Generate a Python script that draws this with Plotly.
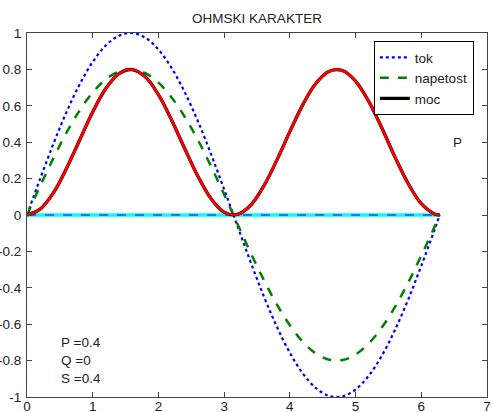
import plotly.graph_objects as go

t = [0, 0.2, 0.4, 0.6, 0.8, 1.0, 1.2, 1.4, 1.6, 1.8, 2.0, 2.2, 2.4, 2.6, 2.8, 3.0,
     3.2, 3.4, 3.6, 3.8, 4.0, 4.2, 4.4, 4.6, 4.8, 5.0, 5.2, 5.4, 5.6, 5.8, 6.0, 6.2, 6.28]
tok = [0, 0.199, 0.389, 0.565, 0.717, 0.841, 0.932, 0.985, 1.0, 0.974, 0.909, 0.808,
       0.675, 0.516, 0.335, 0.141, -0.058, -0.256, -0.443, -0.612, -0.757, -0.872,
       -0.952, -0.994, -0.996, -0.959, -0.883, -0.773, -0.631, -0.465, -0.279, -0.083, 0]
napetost = [0, 0.159, 0.311, 0.452, 0.574, 0.673, 0.746, 0.788, 0.800, 0.779, 0.727,
            0.646, 0.540, 0.413, 0.268, 0.113, -0.047, -0.205, -0.354, -0.490, -0.606,
            -0.698, -0.762, -0.795, -0.797, -0.767, -0.706, -0.618, -0.505, -0.372,
            -0.223, -0.066, 0]
moc = [0, 0.032, 0.121, 0.255, 0.411, 0.566, 0.695, 0.777, 0.799, 0.759, 0.661, 0.522,
       0.365, 0.213, 0.090, 0.016, 0.003, 0.052, 0.157, 0.300, 0.458, 0.608, 0.725,
       0.790, 0.794, 0.736, 0.624, 0.478, 0.318, 0.173, 0.062, 0.006, 0]
q_line = [0] * len(t)

x_ticks = [0, 1, 2, 3, 4, 5, 6, 7]
y_ticks = [1, 0.8, 0.6, 0.4, 0.2, 0, -0.2, -0.4, -0.6, -0.8, -1]
y_labels = ["1", "0.8", "0.6", "0.4", "0.2", "0", "-0.2", "-0.4", "-0.6", "-0.8", "-1"]

P, Q, S = 0.4, 0, 0.4

fig = go.Figure()
fig.add_trace(go.Scatter(x=t, y=q_line, mode="lines", line=dict(color="#00FFFF", width=3.5),
                         showlegend=False, hoverinfo="skip"))
fig.add_trace(go.Scatter(x=t, y=q_line, mode="lines", line=dict(color="#0000FF", width=1, dash="dash"),
                         showlegend=False, hoverinfo="skip"))
fig.add_trace(go.Scatter(x=t, y=tok, mode="lines", name="tok",
                         line=dict(color="#0000FF", width=2.2, dash="dot", shape="spline")))
fig.add_trace(go.Scatter(x=t, y=napetost, mode="lines", name="napetost",
                         line=dict(color="#008000", width=2.5, dash="dash", shape="spline")))
fig.add_trace(go.Scatter(x=t, y=moc, mode="lines", name="moc",
                         line=dict(color="#000000", width=3.3, shape="spline")))
fig.add_trace(go.Scatter(x=t, y=moc, mode="lines", showlegend=False,
                         line=dict(color="#FF0000", width=2.6, shape="spline")))

font = dict(family="Liberation Sans, Arial, sans-serif", size=13.5, color="#222222")

fig.add_annotation(x=0.48, y=-0.7, text=f"P ={P}", showarrow=False, xanchor="left", font=font)
fig.add_annotation(x=0.48, y=-0.8, text=f"Q ={Q}", showarrow=False, xanchor="left", font=font)
fig.add_annotation(x=0.48, y=-0.9, text=f"S ={S}", showarrow=False, xanchor="left", font=font)
fig.add_annotation(x=6.45, y=0.4, text="P", showarrow=False, xanchor="left", font=font)

axis_common = dict(showgrid=False, zeroline=False, showline=True, linecolor="#444444", linewidth=1,
                   mirror="ticks", ticks="inside", ticklen=5, tickcolor="#444444", tickfont=font,
                   automargin=False)

fig.update_layout(
    width=493, height=412,
    margin=dict(l=27, r=6, t=33, b=15),
    paper_bgcolor="white", plot_bgcolor="white",
    title=dict(text="OHMSKI KARAKTER", x=(27 + 487) / 2 / 493, xanchor="center",
               y=1 - 18 / 412, yanchor="middle", font=font),
    xaxis=dict(range=[0, 7], tickvals=x_ticks, ticktext=[str(v) for v in x_ticks],
               ticklabelstandoff=-3, **axis_common),
    yaxis=dict(range=[-1, 1], tickvals=y_ticks, ticktext=y_labels, ticklabelstandoff=2, **axis_common),
    legend=dict(x=0.754, y=0.978, xanchor="left", yanchor="top", bgcolor="white",
                bordercolor="#000000", borderwidth=1, font=font, tracegroupgap=0,
                itemwidth=30),
    showlegend=True,
)

fig.write_html("out.html")
